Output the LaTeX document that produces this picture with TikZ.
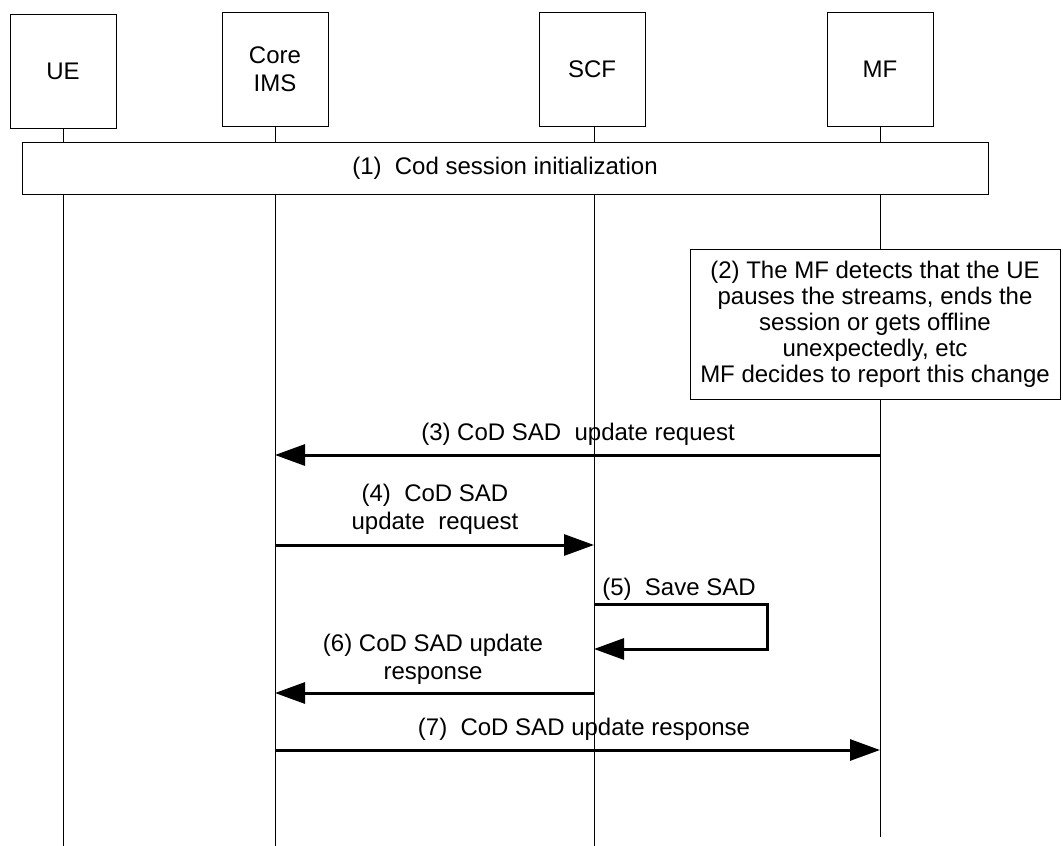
\documentclass[tikz,border=0pt]{standalone}
\usepackage{fontspec}
\setmainfont{Liberation Sans}
\usetikzlibrary{arrows.meta}
\begin{document}
\begin{tikzpicture}[x=1pt,y=-1pt,
  every node/.style={font=\fontsize{24}{28}\selectfont, inner sep=0pt},
  head/.style={draw, line width=1pt, fill=white, minimum width=106pt, minimum height=114pt, align=center},
  life/.style={line width=1pt},
  msg/.style={line width=3pt, -{Triangle[length=30pt,width=21pt]}},
  lbl/.style={align=center},
  boxed/.style={draw, line width=1pt, fill=white, align=center},
]
\useasboundingbox (0,0) rectangle (1063,846);
% lifeline heads
\node[head] (ue)   at (63,71)  {UE};
\node[head] (core) at (275,69) {Core\\IMS};
\node[head] (scf)  at (592,69) {SCF};
\node[head] (mf)   at (880,69) {MF};
% lifeline ends
\coordinate (ueEnd)   at (63,846);
\coordinate (coreEnd) at (275,846);
\coordinate (scfEnd)  at (594,846);
\coordinate (mfEnd)   at (880,837);
\draw[life] (ue.south)   -- (ueEnd);
\draw[life] (core.south) -- (coreEnd);
\draw[life] (scf.south -| scfEnd) -- (scfEnd);
\draw[life] (mf.south)   -- (mfEnd);
% (1)
\node[boxed, minimum width=966pt, minimum height=52pt] (init) at (505,168) {(1)\ \ Cod session initialization};
% (2)
\node[boxed, minimum width=370pt, minimum height=150pt, font=\fontsize{24}{26}\selectfont] (note) at (875,324)
  {(2) The MF detects that the UE\\pauses the streams, ends the\\session or gets offline\\unexpectedly, etc\\MF decides to report this change};
% message coordinates
\coordinate (m3a) at (880,455); \coordinate (m3b) at (275,455);
\coordinate (m4a) at (275,545); \coordinate (m4b) at (594,545);
\coordinate (m5a) at (594,604); \coordinate (m5b) at (767,604);
\coordinate (m5c) at (767,649); \coordinate (m5d) at (594,649);
\coordinate (m6a) at (594,693); \coordinate (m6b) at (275,693);
\coordinate (m7a) at (275,750); \coordinate (m7b) at (880,750);
\draw[msg] (m3a) -- (m3b);
\draw[msg] (m4a) -- (m4b);
\draw[msg, line join=miter] (m5a) -- (m5b) -- (m5c) -- (m5d);
\draw[msg] (m6a) -- (m6b);
\draw[msg] (m7a) -- (m7b);
% labels
\node[lbl] (l3) at (578,434) {(3) CoD SAD\ \ update request};
\node[lbl] (l4) at (435,509) {(4)\ \ CoD SAD\\update\ \ request};
\node[lbl] (l5) at (679,589) {(5)\ \ Save SAD};
\node[lbl] (l6) at (433,659) {(6) CoD SAD update\\response};
\node[lbl] (l7) at (584,729) {(7)\ \ CoD SAD update response};
\end{tikzpicture}
\end{document}
